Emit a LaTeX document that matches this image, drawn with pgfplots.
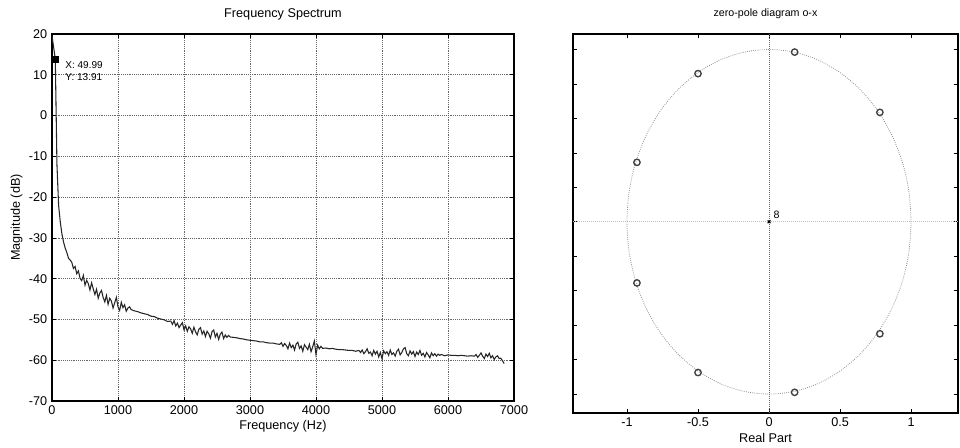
\documentclass[border=0pt]{standalone}
\usepackage{fontspec}
\setmainfont{Liberation Sans}
\usepackage{pgfplots}
\pgfplotsset{compat=1.18}

\pgfplotstableread{
f mag
0 19.5
50 13.91
75 -12.0
100 -22.0
125 -26.0
150 -29.0
175 -31.0
200 -32.5
225 -33.6
250 -35.0
275 -35.4
300 -36.0
325 -37.5
350 -37.0
375 -38.8
400 -38.1
425 -39.9
450 -40.5
475 -39.2
500 -41.6
525 -40.4
550 -41.2
575 -42.8
600 -41.0
625 -42.5
650 -43.9
675 -42.6
700 -44.8
725 -43.5
750 -42.9
775 -44.6
800 -45.7
825 -44.1
850 -46.3
875 -44.8
900 -45.5
925 -47.2
950 -45.9
975 -44.6
1000 -46.9
1025 -47.8
1050 -45.8
1075 -47.1
1100 -46.4
1125 -48.0
1150 -47.2
1175 -46.9
1200 -47.6
1250 -47.9
1300 -48.1
1350 -48.4
1400 -48.6
1450 -48.8
1500 -49.2
1550 -49.3
1600 -49.7
1650 -49.9
1700 -50.1
1750 -50.5
1800 -50.4
1825 -51.2
1850 -50.3
1875 -51.6
1900 -50.9
1925 -52.0
1950 -51.4
1975 -50.8
2000 -52.5
2025 -51.6
2050 -52.9
2075 -51.8
2100 -52.3
2125 -53.4
2150 -51.9
2175 -53.0
2200 -53.8
2225 -52.4
2250 -52.0
2275 -53.6
2300 -52.8
2325 -54.2
2350 -52.9
2375 -53.5
2400 -54.6
2425 -53.0
2450 -52.6
2475 -54.3
2500 -53.4
2525 -54.9
2550 -53.6
2575 -53.1
2600 -54.7
2625 -53.8
2650 -54.4
2675 -53.9
2700 -54.3
2750 -54.4
2800 -54.5
2850 -54.7
2900 -54.8
2950 -55.0
3000 -55.1
3050 -55.2
3100 -55.3
3150 -55.5
3200 -55.5
3250 -55.7
3300 -55.8
3350 -55.8
3400 -56.0
3450 -56.1
3475 -55.7
3500 -56.6
3525 -55.9
3550 -56.4
3575 -57.2
3600 -55.8
3625 -56.9
3650 -56.3
3675 -57.5
3700 -56.0
3725 -55.6
3750 -57.1
3775 -56.5
3800 -57.8
3825 -56.2
3850 -56.8
3875 -57.4
3900 -56.1
3925 -57.9
3950 -56.7
3975 -55.3
4000 -58.6
4025 -56.3
4050 -57.2
4075 -56.6
4100 -57.1
4150 -57.0
4200 -57.2
4250 -57.1
4300 -57.3
4350 -57.4
4400 -57.4
4450 -57.5
4500 -57.6
4550 -57.6
4600 -57.8
4650 -57.6
4675 -58.1
4700 -57.5
4725 -58.4
4750 -57.9
4775 -57.2
4800 -58.3
4825 -58.0
4850 -58.9
4875 -57.6
4900 -58.5
4925 -57.8
4950 -59.2
4975 -58.1
5000 -59.6
5025 -57.7
5050 -58.4
5075 -57.9
5100 -58.8
5125 -57.5
5150 -58.6
5175 -58.2
5200 -59.0
5225 -57.8
5250 -57.3
5275 -58.7
5300 -58.1
5325 -57.2
5350 -56.9
5375 -58.4
5400 -58.9
5425 -57.7
5450 -58.5
5475 -57.9
5500 -59.1
5525 -58.0
5550 -58.6
5575 -57.6
5600 -58.8
5625 -58.3
5650 -59.2
5675 -58.1
5700 -58.7
5725 -59.4
5750 -58.2
5775 -58.9
5800 -58.4
5825 -59.0
5850 -58.5
5875 -58.8
5900 -58.6
5950 -58.9
6000 -58.7
6050 -58.8
6100 -58.8
6150 -58.9
6200 -58.8
6250 -58.9
6300 -59.0
6350 -58.9
6400 -59.0
6425 -58.6
6450 -59.3
6475 -58.8
6500 -58.2
6525 -59.0
6550 -59.6
6575 -58.5
6600 -59.1
6625 -58.3
6650 -59.4
6675 -58.9
6700 -59.8
6725 -59.2
6750 -58.9
6775 -59.6
6800 -59.5
6825 -60.1
6850 -60.8
}\spectrum

% unit circle, 10 degree steps
\pgfplotstableread{
re im
1 0
0.985 0.174
0.940 0.342
0.866 0.500
0.766 0.643
0.643 0.766
0.500 0.866
0.342 0.940
0.174 0.985
0 1
-0.174 0.985
-0.342 0.940
-0.500 0.866
-0.643 0.766
-0.766 0.643
-0.866 0.500
-0.940 0.342
-0.985 0.174
-1 0
-0.985 -0.174
-0.940 -0.342
-0.866 -0.500
-0.766 -0.643
-0.643 -0.766
-0.500 -0.866
-0.342 -0.940
-0.174 -0.985
0 -1
0.174 -0.985
0.342 -0.940
0.500 -0.866
0.643 -0.766
0.766 -0.643
0.866 -0.500
0.940 -0.342
0.985 -0.174
1 0
}\unitcircle

\pgfplotstableread{
re im
0.18 0.985
-0.50 0.860
0.78 0.635
-0.93 0.345
-0.93 -0.355
-0.50 -0.875
0.18 -0.990
0.78 -0.650
}\zeros

\begin{document}
\begin{tikzpicture}
\useasboundingbox (0,0) rectangle (720pt,335.25pt);
\pgfplotsset{
  every axis/.append style={
    scale only axis,
    font=\fontsize{9.5}{11}\selectfont,
    tick align=inside,
    major tick length=3pt,
    axis line style={black, line width=0.9pt},
    /pgf/number format/assume math mode=true,
    tick style={black, line width=0.5pt},
  },
}
\begin{axis}[
  at={(39pt,34.5pt)}, anchor=south west,
  width=346.5pt, height=275.25pt,
  xmin=0, xmax=7000, ymin=-70, ymax=20,
  xtick={0,1000,...,7000}, ytick={-70,-60,...,20},
  scaled x ticks=false,
  xticklabel style={/pgf/number format/.cd, fixed, 1000 sep={}},
  grid=major, major grid style={densely dotted, black!60, line width=0.5pt},
  title={Frequency Spectrum},
  title style={yshift=1pt},
  xlabel={Frequency (Hz)},
  ylabel={Magnitude (dB)},
  xlabel style={yshift=3pt},
  ylabel style={yshift=-2pt},
  clip=false,
]
\addplot[black!85, line width=0.8pt] table[x=f, y=mag] {\spectrum};
\addplot[only marks, mark=square*, mark size=2.3pt, black] coordinates {(49.99,13.91)};
\node[anchor=north west, align=left, inner sep=0pt, font=\fontsize{7.5}{9}\selectfont]
  at (axis cs:200,13.2) {X: 49.99\\Y: 13.91};
\end{axis}

\begin{axis}[
  at={(429.75pt,25.5pt)}, anchor=south west,
  width=288.75pt, height=284.25pt,
  xmin=-1.38, xmax=1.33, ymin=-1.11, ymax=1.09,
  xtick={-1,-0.5,0,0.5,1},
  xticklabels={-1,-0.5,0,0.5,1},
  ytick={-1,-0.8,...,1},
  yticklabels={},
  title={zero-pole diagram o-x},
  title style={font=\fontsize{8}{10}\selectfont, yshift=2pt},
  xlabel={Real Part},
  xlabel style={yshift=2pt},
  clip=false,
]
\addplot[densely dotted, black!45, line width=0.6pt, smooth] table[x=re, y=im] {\unitcircle};
\addplot[densely dotted, black!60, line width=0.5pt] coordinates {(0,-1.11) (0,1.09)};
\addplot[densely dotted, black!25, line width=0.5pt] coordinates {(-1.38,0) (1.33,0)};
\addplot[only marks, mark=o, mark size=2.4pt, black!75, line width=1pt] table[x=re, y=im] {\zeros};
\addplot[only marks, mark=x, mark size=1.5pt, black, line width=0.8pt] coordinates {(0,0)};
\node[anchor=south west, inner sep=1pt, font=\fontsize{8}{9}\selectfont] at (axis cs:0.02,0.01) {8};
\end{axis}
\end{tikzpicture}
\end{document}
